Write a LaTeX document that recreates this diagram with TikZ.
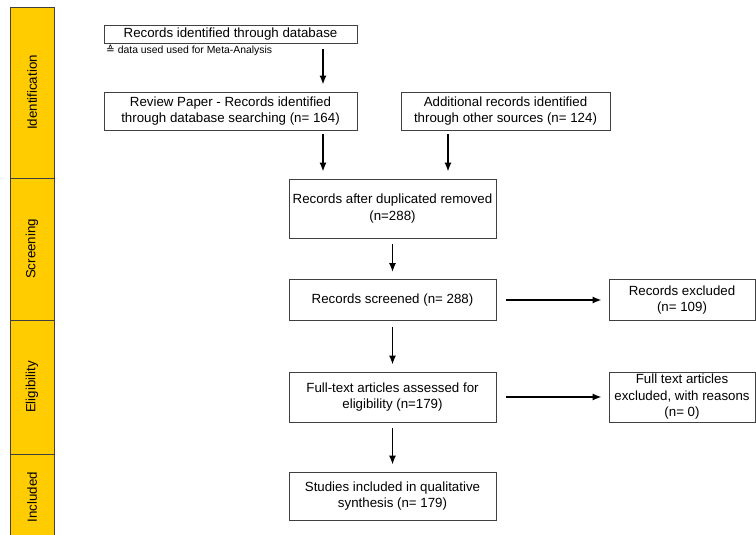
\documentclass[tikz,border=0pt]{standalone}
\usepackage{fontspec}
\setmainfont{Liberation Sans}
\newfontfamily\symfont{DejaVu Sans}
\usepackage{tikz}
\usetikzlibrary{arrows.meta,positioning,calc}
\usepackage{xcolor}
\definecolor{phaseyellow}{RGB}{255,204,0}
\definecolor{boxgray}{RGB}{64,64,64}

\begin{document}
\begin{tikzpicture}[
      x=1pt, y=-1pt,
      box/.style={draw=boxgray, line width=0.9pt, fill=white, align=center,
                  font=\fontsize{13.3}{16.5}\selectfont, inner sep=2pt},
      phase/.style={draw=boxgray, line width=0.9pt, fill=phaseyellow,
                  rotate=90, minimum height=44pt, inner sep=0pt,
                  font=\fontsize{13.3}{16}\selectfont},
      arr/.style={-{Latex[length=9pt,width=7pt]}, line width=1.4pt,
                  shorten <=6pt, shorten >=7pt},
      harr/.style={arr, shorten <=10pt}
    ]
    \useasboundingbox (0,0) rectangle (756,535);
    \node[phase, minimum width=171pt] (ident) at (32,92.5) {Identification};
    \node[phase, minimum width=142pt] (screen) at (32,249) {Screening};
    \node[phase, minimum width=134pt] (elig) at (32,387) {Eligibility};
    \node[phase, minimum width=86pt] (incl) at (32,497) {Included};
    \node[box, minimum width=253pt, minimum height=18pt] (db) at (230.5,34)
      {Records identified through database};
    \node[anchor=west, inner sep=0pt, font=\fontsize{10.4}{12}\selectfont]
      (note) at (106,50) {{\symfont ≙} data used used for Meta-Analysis};
    \node[box, minimum width=253pt, minimum height=38pt] (review) at (230.5,111)
      {Review Paper - Records identified\\through database searching (n= 164)};
    \node[box, minimum width=209pt, minimum height=38pt] (extra) at (505.5,111)
      {Additional records identified\\through other sources (n= 124)};
    \node[box, minimum width=207pt, minimum height=59pt] (dup) at (392.5,208.5)
      {Records after duplicated removed\\(n=288)};
    \node[box, minimum width=207pt, minimum height=41pt] (screened) at (392.5,300)
      {Records screened (n= 288)};
    \node[box, minimum width=146pt, minimum height=41pt] (excl) at (682,300)
      {Records excluded\\(n= 109)};
    \node[box, minimum width=207pt, minimum height=50pt] (full) at (392.5,397)
      {Full-text articles assessed for\\eligibility (n=179)};
    \node[box, minimum width=146pt, minimum height=50pt] (fullexcl) at (682,397)
      {Full text articles\\excluded, with reasons\\(n= 0)};
    \node[box, minimum width=207pt, minimum height=48pt] (studies) at (392.5,496)
      {Studies included in qualitative\\synthesis (n= 179)};
    \draw[arr] ([xshift=92.5pt]db.south) -- ([xshift=92.5pt]review.north);
    \draw[arr, shorten <=4pt, shorten >=7pt] ([xshift=92.5pt]review.south) -- (dup.north -| 323,0);
    \draw[arr, shorten <=4pt, shorten >=7pt] ([xshift=-57.5pt]extra.south) -- (dup.north -| 448,0);
    \draw[arr] (dup) -- (screened);
    \draw[harr] (screened) -- (excl);
    \draw[arr] (screened) -- (full);
    \draw[harr] (full) -- (fullexcl);
    \draw[arr] (full) -- (studies);
  \end{tikzpicture}
\end{document}
